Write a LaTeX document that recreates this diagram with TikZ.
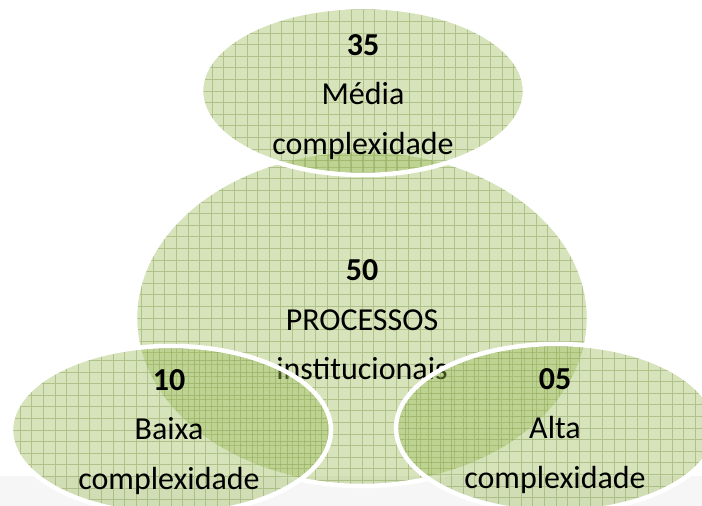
\documentclass[tikz,border=0pt]{standalone}
\usepackage{fontspec}
\setmainfont{Carlito}
\usetikzlibrary{shapes.geometric}
\definecolor{leaf}{HTML}{9BBB59}
\definecolor{band}{HTML}{F6F6F6}
\begin{document}
\begin{tikzpicture}[x=1pt,y=1pt,
  gridline/.style={draw=leaf!80!black, line width=0.9pt, draw opacity=0.42, step=11.6},
  blob/.style={ellipse, inner sep=0pt, draw=white, line width=4.5pt, fill=leaf,
    fill opacity=0.41, draw opacity=1,
    path picture={\draw[gridline] (path picture bounding box.south west) grid (path picture bounding box.north east);}},
  txt/.style={align=center, text=black, font=\fontsize{32}{49.5}\selectfont, inner sep=0pt}
]
\clip (0,0) rectangle (702,506);
\fill[band] (0,0) rectangle (702,30);
% big ellipse
\node[blob, minimum width=454pt, minimum height=336pt] (big) at (362,188) {};
\node[txt] (bt) at (362,186) {\textbf{50}\\PROCESSOS\\institucionais};
% top ellipse
\node[blob, minimum width=324pt, minimum height=168pt] (top) at (363,415) {};
\node[txt] (tt) at (363,409) {\textbf{35}\\Média\\complexidade};
% left ellipse
\node[blob, minimum width=320pt, minimum height=168pt] (left) at (171,76) {};
\node[txt] (lt) at (169,74) {\textbf{10}\\Baixa\\complexidade};
% right ellipse
\node[blob, minimum width=320pt, minimum height=168pt] (right) at (556,78) {};
\node[txt] (rt) at (555,75) {\textbf{05}\\Alta\\complexidade};
\end{tikzpicture}
\end{document}
